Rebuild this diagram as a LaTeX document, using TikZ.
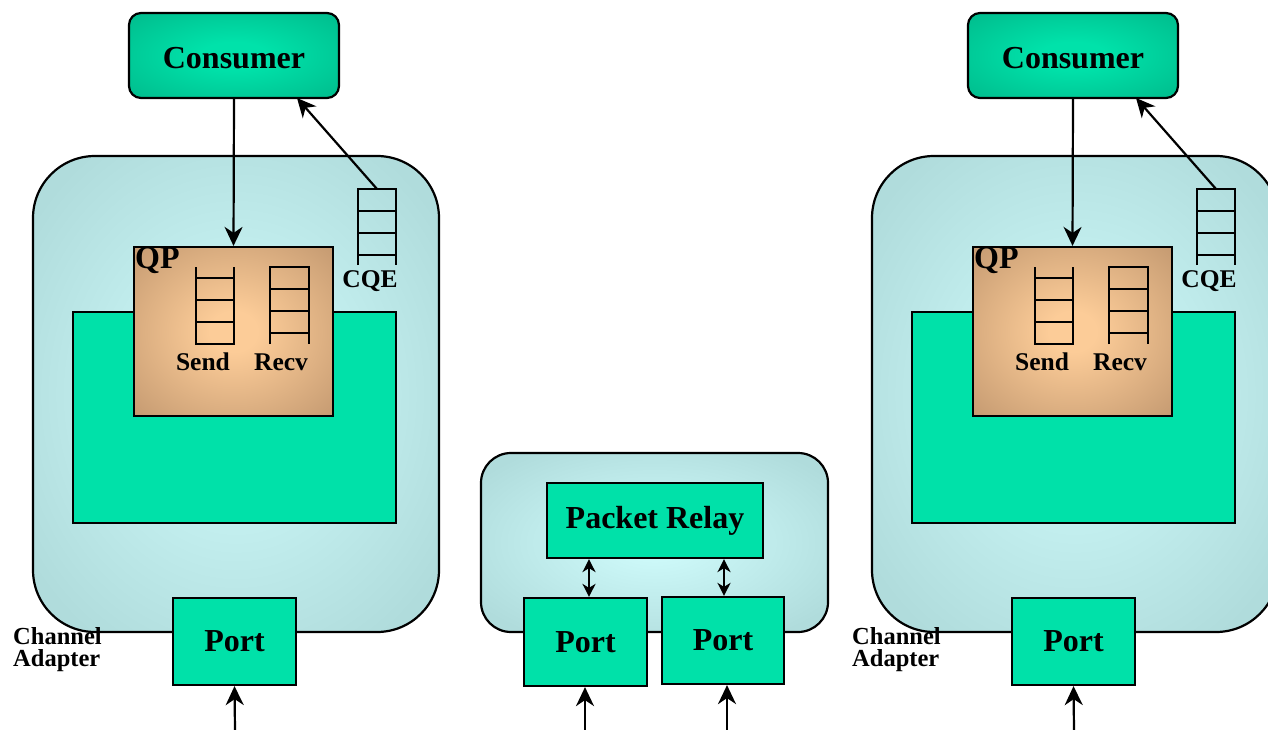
\documentclass[tikz,border=0pt]{standalone}
\usepackage{fontspec}
\setmainfont{Liberation Serif}
\usetikzlibrary{arrows.meta}

\definecolor{caouter}{HTML}{B0DCDC}
\definecolor{cainner}{HTML}{CCF8F8}
\definecolor{conouter}{HTML}{00AE82}
\definecolor{coninner}{HTML}{00E2AA}
\definecolor{qpouter}{HTML}{C0966E}
\definecolor{qpinner}{HTML}{FCCC98}
\definecolor{mint}{HTML}{00E1A9}

\pgfdeclareradialshading{caglow}{\pgfpoint{0bp}{0bp}}{color(0bp)=(cainner); color(5bp)=(cainner); color(31bp)=(caouter); color(50bp)=(caouter)}
\pgfdeclareradialshading{conglow}{\pgfpoint{0bp}{0bp}}{color(0bp)=(coninner); color(8bp)=(coninner); color(45bp)=(conouter); color(50bp)=(conouter)}
\pgfdeclareradialshading{qpglow}{\pgfpoint{0bp}{0bp}}{color(0bp)=(qpinner); color(6bp)=(qpinner); color(38bp)=(qpouter); color(50bp)=(qpouter)}

\tikzset{
  outline/.style={draw=black, line width=2.2pt},
  cabox/.style={outline, shading=caglow, rounded corners=62pt,
    minimum width=406pt, minimum height=476pt, inner sep=0pt},
  swbox/.style={outline, shading=caglow, rounded corners=30pt,
    minimum width=347pt, minimum height=179pt, inner sep=0pt},
  mintbox/.style={outline, fill=mint, inner sep=0pt,
    font=\fontsize{32}{34}\selectfont\bfseries},
  portbox/.style={mintbox, minimum width=123pt, minimum height=87pt},
  consbox/.style={outline, shading=conglow, rounded corners=12pt,
    minimum width=210pt, minimum height=85pt, inner sep=0pt,
    text height=27pt, text depth=0pt,
    font=\fontsize{32}{34}\selectfont\bfseries},
  qpbox/.style={outline, shading=qpglow, minimum width=199pt,
    minimum height=169pt, inner sep=0pt},
  biglbl/.style={font=\fontsize{32}{34}\selectfont\bfseries, inner sep=0pt},
  smalllbl/.style={font=\fontsize{25.5}{27}\selectfont\bfseries, inner sep=0pt},
  calbl/.style={font=\fontsize{24.5}{26}\selectfont\bfseries, inner sep=0pt},
  ladder/.style={draw=black, line width=2.2pt},
  flow/.style={draw=black, line width=2.2pt,
    -{Stealth[length=19pt, width=18pt, inset=6pt]}},
  dbl/.style={draw=black, line width=2.2pt,
    {Stealth[length=13pt, width=13pt, inset=4pt]}-{Stealth[length=13pt, width=13pt, inset=4pt]}},
}

% One channel adapter with its consumer, queue pair, completion queue and port
\newcommand\chanadapter[2]{%
\begin{scope}[xshift=#2pt]
  \node[cabox] (#1-ca) at (236,394) {};
  \node[mintbox, minimum width=323pt, minimum height=211pt] (#1-core) at (234.5,417.5) {};
  \node[qpbox] (#1-qp) at (233.5,331.5) {};
  \node[biglbl, anchor=base west] (#1-qpl) at (135,268) {QP};
  % send queue (open top)
  \draw[ladder] (196,267) -- (196,344) -- (234,344) -- (234,267);
  \foreach \yy in {278,300,322} \draw[ladder] (196,\yy) -- (234,\yy);
  \node[smalllbl, anchor=base] (#1-send) at (203,370) {Send};
  % receive queue (open bottom)
  \draw[ladder] (270,344) -- (270,267) -- (309,267) -- (309,344);
  \foreach \yy in {289,311,333} \draw[ladder] (270,\yy) -- (309,\yy);
  \node[smalllbl, anchor=base] (#1-recv) at (281,370) {Recv};
  % completion queue
  \draw[ladder] (358,265) -- (358,189) -- (396,189) -- (396,265);
  \foreach \yy in {211,233,255} \draw[ladder] (358,\yy) -- (396,\yy);
  \node[smalllbl, anchor=base] (#1-cqel) at (370,287) {CQE};
  \coordinate (#1-cqe) at (377,189);
  % consumer and port
  \node[consbox] (#1-cons) at (234,55.5) {Consumer};
  \coordinate (#1-consin) at (297,98);
  \node[portbox] (#1-port) at (234.5,641.5) {Port};
  \coordinate (#1-link) at (235,730);
  \node[calbl, anchor=base west] (#1-ch) at (13,644) {Channel};
  \node[calbl, anchor=base west] (#1-ad) at (13,666) {Adapter};
  % connectors
  \draw[flow] (#1-cons.south) -- (#1-qp.north);
  \draw[flow] (#1-cqe) -- (#1-consin);
  \draw[flow] (#1-link) -- (#1-port.south);
\end{scope}}

\begin{document}
\begin{tikzpicture}[x=1pt, y=-1pt]
  \useasboundingbox (0,0) rectangle (1268,730);
  \clip (0,0) rectangle (1268,730);

  \chanadapter{l}{0}
  \chanadapter{r}{839}

  % switch in the middle
  \node[swbox] (sw) at (654.5,542.5) {};
  \node[mintbox, minimum width=216pt, minimum height=75pt] (relay) at (655,520.5) {Packet Relay};
  \node[portbox, minimum height=88pt] (pa) at (585.5,642) {Port};
  \node[portbox, minimum width=122pt] (pb) at (723,640.5) {Port};
  \draw[dbl] ([xshift=3.5pt]pa.north |- relay.south) -- ([xshift=3.5pt]pa.north);
  \draw[dbl] ([xshift=1pt]pb.north |- relay.south) -- ([xshift=1pt]pb.north);
  \coordinate (la) at (585,730);
  \coordinate (lb) at (727,730);
  \draw[flow] (la) -- (la |- pa.south);
  \draw[flow] (lb) -- (lb |- pb.south);
\end{tikzpicture}
\end{document}
